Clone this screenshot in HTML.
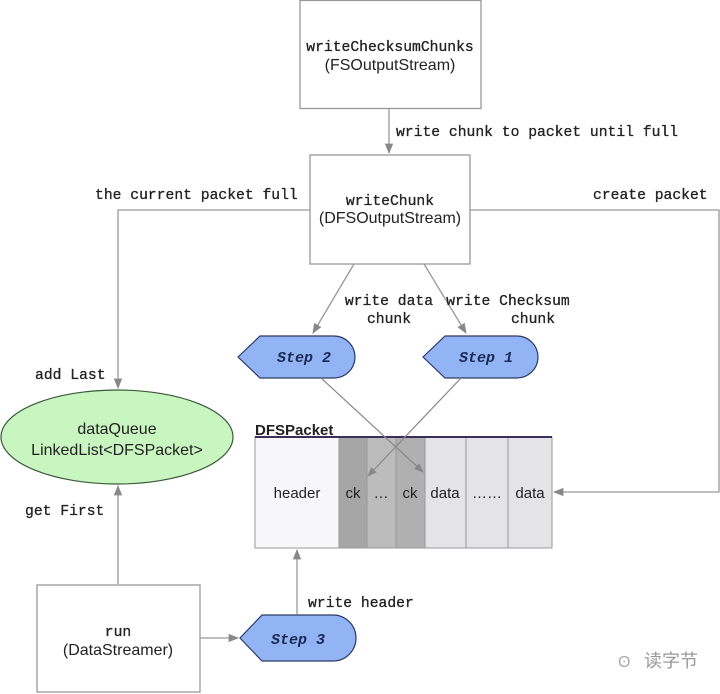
<!DOCTYPE html>
<html><head><meta charset="utf-8"><style>
html,body{margin:0;padding:0;background:#fff;width:720px;height:694px;overflow:hidden}
.m{font-family:"Liberation Mono",monospace;font-size:14.7px;fill:#222;stroke:#222;stroke-width:0.3}
.s{font-family:"Liberation Sans",sans-serif;fill:#222}
.st{font-family:"Liberation Mono",monospace;font-size:15px;font-weight:bold;font-style:italic;fill:#1a2a55}
</style></head><body>
<svg width="720" height="694" viewBox="0 0 720 694" xmlns="http://www.w3.org/2000/svg">
<defs><marker id="a" viewBox="0 0 10 10" refX="9" refY="5" markerWidth="8" markerHeight="8" orient="auto"><path d="M0,1 L10,5 L0,9 z" fill="#888"/></marker></defs>
<g fill="none" stroke="#999" stroke-width="1.3">
<rect x="300" y="0.5" width="181" height="108" fill="#fff"/>
<rect x="310" y="155" width="160" height="109" fill="#fff"/>
<rect x="37" y="585" width="163" height="107" fill="#fff"/>
<line x1="389" y1="109" x2="389" y2="153" marker-end="url(#a)"/>
<polyline points="310,210 118,210 118,388" marker-end="url(#a)"/>
<polyline points="470,210 719,210 719,492 554,492" marker-end="url(#a)"/>
<line x1="118" y1="584" x2="118" y2="486" marker-end="url(#a)"/>
<line x1="200" y1="638" x2="238" y2="638" marker-end="url(#a)"/>
<line x1="297" y1="614" x2="297" y2="550" marker-end="url(#a)"/>
<line x1="354" y1="264" x2="313" y2="333" marker-end="url(#a)"/>
<line x1="424" y1="264" x2="466" y2="333" marker-end="url(#a)"/>
</g>
<ellipse cx="117" cy="437" rx="116" ry="47" fill="#c9f5c0" stroke="#3a5a3a" stroke-width="1.2"/>
<path d="M238,357 L260,336 L334,336 A21,21 0 0 1 334,378 L260,378 Z" fill="#93b4f4" stroke="#2a3a66" stroke-width="1.2"/>
<path d="M423,357 L445,336 L517,336 A21,21 0 0 1 517,378 L445,378 Z" fill="#93b4f4" stroke="#2a3a66" stroke-width="1.2"/>
<path d="M240,638 L262,615 L333,615 A23,23 0 0 1 333,661 L262,661 Z" fill="#93b4f4" stroke="#2a3a66" stroke-width="1.2"/>
<g stroke="#999" stroke-width="1">
<rect x="255" y="437" width="84" height="111" fill="#f7f7f9"/>
<rect x="339" y="437" width="28" height="111" fill="#a6a6a6"/>
<rect x="367" y="437" width="29" height="111" fill="#bcbcbc"/>
<rect x="396" y="437" width="29" height="111" fill="#b0b0b0"/>
<rect x="425" y="437" width="41" height="111" fill="#e4e4e8"/>
<rect x="466" y="437" width="42" height="111" fill="#e4e4e8"/>
<rect x="508" y="437" width="44" height="111" fill="#e4e4e8"/>
</g>
<line x1="255" y1="437" x2="552" y2="437" stroke="#3a2f5a" stroke-width="2"/>
<g fill="none" stroke="#888" stroke-width="1.2">
<line x1="321" y1="378" x2="423" y2="472" marker-end="url(#a)"/>
<line x1="461" y1="378" x2="368" y2="476" marker-end="url(#a)"/>
</g>
<text x="255" y="435" class="s" font-size="15" font-weight="bold">DFSPacket</text>
<g class="s" font-size="15" text-anchor="middle">
<text x="297" y="498">header</text><text x="353" y="498">ck</text><text x="381" y="498">…</text><text x="410" y="498">ck</text>
<text x="445" y="498">data</text><text x="487" y="498">……</text><text x="530" y="498">data</text>
</g>
<g class="s" font-size="16" text-anchor="middle">
<text x="390" y="70">(FSOutputStream)</text>
<text x="390" y="223">(DFSOutputStream)</text>
<text x="118" y="655">(DataStreamer)</text>
<text x="117" y="434">dataQueue</text>
<text x="117" y="455">LinkedList&lt;DFSPacket&gt;</text>
</g>
<g class="m" text-anchor="middle">
<text x="390" y="51">writeChecksumChunks</text>
<text x="390" y="205">writeChunk</text>
<text x="118" y="636">run</text>
<text x="389" y="305">write data</text><text x="389" y="323">chunk</text>
<text x="508" y="305">write Checksum</text><text x="533" y="323">chunk</text>
</g>
<g class="m">
<text x="396" y="136">write chunk to packet until full</text>
<text x="95" y="199">the current packet full</text>
<text x="593" y="199">create packet</text>
<text x="35" y="379">add Last</text>
<text x="25" y="515">get First</text>
<text x="308" y="607">write header</text>
</g>
<text x="304" y="362" class="st" text-anchor="middle">Step 2</text>
<text x="486" y="362" class="st" text-anchor="middle">Step 1</text>
<text x="298" y="644" class="st" text-anchor="middle">Step 3</text>
<text x="644" y="667" font-family="'Liberation Sans','Noto Sans CJK SC',sans-serif" font-size="18" fill="#999">读字节</text>
<text x="618" y="667" font-family="'Liberation Sans',sans-serif" font-size="16" fill="#aaa">ʘ</text>
</svg>
</body></html>
